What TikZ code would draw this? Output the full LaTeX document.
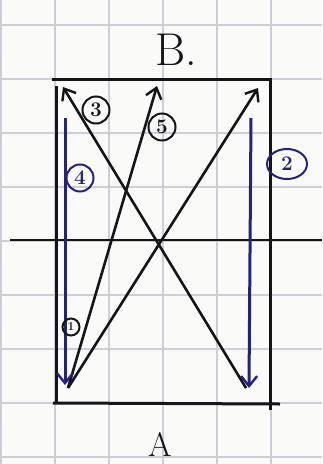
\documentclass[tikz,border=0pt]{standalone}
\usetikzlibrary{arrows.meta,shapes.geometric}
\definecolor{gridc}{RGB}{205,207,214}
\definecolor{penblue}{RGB}{35,35,125}
\definecolor{pink}{RGB}{20,20,25}
\definecolor{paper}{RGB}{250,250,248}
\begin{document}
\begin{tikzpicture}[x=1pt,y=-1pt,
  frame/.style={line width=3pt,draw=pink},
  pen/.style={line width=2.6pt,draw=pink,-{Straight Barb[length=10pt,width=16pt,line width=2.4pt]}},
  bluepen/.style={line width=3pt,draw=penblue,-{Straight Barb[length=10pt,width=16pt,line width=2.4pt]}},
  tag/.style={circle,draw=pink,line width=2pt,inner sep=0pt,minimum size=27pt,font=\bfseries\huge,text=pink},
  bluetag/.style={tag,draw=penblue,text=penblue}]
\useasboundingbox (0,0) rectangle (322,464);
\fill[paper] (0,0) rectangle (322,464);
% grid
\foreach \x in {1,55,109,163,217,271} \draw[gridc,line width=1.2pt] (\x,0) -- (\x,464);
\foreach \y in {25,79,133,187,241,295,349,403,457} \draw[gridc,line width=1.2pt] (0,\y) -- (322,\y);
% frame
\coordinate (ftl) at (52,79);
\coordinate (ftr) at (270,79);
\coordinate (fbr) at (270,410);
\coordinate (fltop) at (56,86);
\coordinate (flbot) at (56,402);
\coordinate (fbl) at (53,403);
\coordinate (fbe) at (280,404);
\draw[frame] (ftl) -- (ftr) -- (fbr);
\draw[frame] (fltop) -- (flbot);
\draw[frame] (fbl) -- (fbe);
% axis
\coordinate (axl) at (10,240);
\coordinate (axr) at (322,240);
\draw[frame,line width=2.4pt] (axl) -- (axr);
% points
\coordinate (BL) at (68,388);
\coordinate (BR) at (246,388);
\coordinate (TL) at (63,87);
\coordinate (TM) at (157,86);
\coordinate (TR) at (258,88);
\coordinate (b4s) at (65,118);
\coordinate (b4e) at (65,385);
\coordinate (b2s) at (251,118);
\coordinate (b2e) at (249,388);
% paths
\draw[pen] (BL) -- (TR);
\draw[pen] (BR) -- (TL);
\draw[pen] (BL) -- (TM);
\draw[bluepen] (b2s) -- (b2e);
\draw[bluepen] (b4s) -- (b4e);
% tags
\node[tag] (t3) at (96,110) {3};
\node[tag] (t5) at (162,127) {5};
\node[tag,minimum size=17pt,font=\bfseries\large] (t1) at (71,327) {1};
\node[bluetag,ellipse,minimum width=40pt,minimum height=30pt] (t2) at (287,164) {2};
\node[bluetag] (t4) at (80,178) {4};
% titles
\node[font=\fontsize{46}{46}\selectfont,text=pink] (ttlB) at (176,50) {B.};
\node[font=\fontsize{34}{34}\selectfont,text=pink] (ttlA) at (160,444) {A};
\end{tikzpicture}
\end{document}
